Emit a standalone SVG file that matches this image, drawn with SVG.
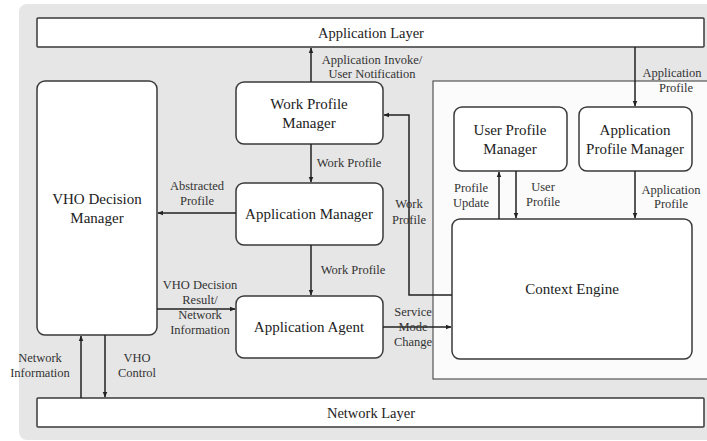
<svg xmlns="http://www.w3.org/2000/svg" width="707" height="441" viewBox="0 0 707 441">
<style>
.box{fill:#fff;stroke:#3a3a3a;stroke-width:1.5}
.node{font-size:15px;fill:#222;text-anchor:middle}
.lbl{font-size:12.5px;fill:#333;text-anchor:middle}
.ln{fill:none;stroke:#222;stroke-width:1.5}
</style>
<defs>
<marker id="ah" viewBox="0 0 10 10" refX="9" refY="5" markerWidth="6" markerHeight="6" orient="auto" markerUnits="userSpaceOnUse">
<path d="M0,1 L10,5 L0,9 z" fill="#222"/>
</marker>
</defs>
<rect x="19" y="4" width="700" height="436" rx="8" fill="#e6e6e6"/>
<rect id="context-panel" x="433" y="81" width="280" height="298" fill="#fbfbfb" stroke="#555" stroke-width="1.2"/>
<g font-family="Liberation Serif, DejaVu Serif, Times New Roman, serif">
<g id="application-layer"><rect class="box" x="37" y="18" width="667" height="29" rx="1"/><text class="node" x="371" y="38" style="font-size:14.5px">Application Layer</text></g>
<g id="network-layer"><rect class="box" x="37" y="398" width="667" height="29" rx="1"/><text class="node" x="371" y="418" style="font-size:14.5px">Network Layer</text></g>
<g id="vho-decision-manager"><rect class="box" x="37" y="81" width="120" height="254" rx="8"/><text class="node" x="97" y="204">VHO Decision</text><text class="node" x="97" y="223">Manager</text></g>
<g id="work-profile-manager"><rect class="box" x="236" y="82" width="147" height="62" rx="8"/><text class="node" x="309" y="109">Work Profile</text><text class="node" x="309" y="128">Manager</text></g>
<g id="application-manager"><rect class="box" x="236" y="183" width="147" height="62" rx="8"/><text class="node" x="309" y="219">Application Manager</text></g>
<g id="application-agent"><rect class="box" x="236" y="296" width="147" height="62" rx="8"/><text class="node" x="309" y="332">Application Agent</text></g>
<g id="user-profile-manager"><rect class="box" x="454" y="107" width="113" height="64" rx="8"/><text class="node" x="510" y="135">User Profile</text><text class="node" x="510" y="154">Manager</text></g>
<g id="application-profile-manager"><rect class="box" x="579" y="107" width="113" height="64" rx="8"/><text class="node" x="635" y="135">Application</text><text class="node" x="635" y="154">Profile Manager</text></g>
<g id="context-engine"><rect class="box" x="452" y="219" width="240" height="140" rx="8"/><text class="node" x="572" y="294">Context Engine</text></g>
<g id="connectors">
<line class="ln" x1="311" y1="82" x2="311" y2="48" marker-end="url(#ah)"/>
<text class="lbl" x="372" y="64">Application Invoke/</text><text class="lbl" x="372" y="78">User Notification</text>
<line class="ln" x1="635" y1="47" x2="635" y2="106" marker-end="url(#ah)"/>
<text class="lbl" x="672" y="77">Application</text><text class="lbl" x="676" y="92">Profile</text>
<line class="ln" x1="311" y1="144" x2="311" y2="182" marker-end="url(#ah)"/>
<text class="lbl" x="349" y="167">Work Profile</text>
<line class="ln" x1="236" y1="213" x2="158" y2="213" marker-end="url(#ah)"/>
<text class="lbl" x="197" y="190">Abstracted</text><text class="lbl" x="197" y="205">Profile</text>
<line class="ln" x1="311" y1="245" x2="311" y2="295" marker-end="url(#ah)"/>
<text class="lbl" x="353" y="274">Work Profile</text>
<line class="ln" x1="157" y1="309" x2="235" y2="309" marker-end="url(#ah)"/>
<text class="lbl" x="200" y="289">VHO Decision</text><text class="lbl" x="200" y="304">Result/</text><text class="lbl" x="200" y="319">Network</text><text class="lbl" x="200" y="334">Information</text>
<line class="ln" x1="81" y1="398" x2="81" y2="336" marker-end="url(#ah)"/>
<text class="lbl" x="40" y="362">Network</text><text class="lbl" x="40" y="377">Information</text>
<line class="ln" x1="105" y1="335" x2="105" y2="397" marker-end="url(#ah)"/>
<text class="lbl" x="137" y="362">VHO</text><text class="lbl" x="137" y="377">Control</text>
<line class="ln" x1="383" y1="327" x2="451" y2="327" marker-end="url(#ah)"/>
<text class="lbl" x="413" y="316">Service</text><text class="lbl" x="413" y="331">Mode</text><text class="lbl" x="413" y="346">Change</text>
<text class="lbl" x="409" y="208">Work</text><text class="lbl" x="409" y="224">Profile</text>
<polyline class="ln" points="452,295 409,295 409,115 384,115" marker-end="url(#ah)"/>
<line class="ln" x1="499" y1="219" x2="499" y2="172" marker-end="url(#ah)"/>
<text class="lbl" x="471" y="192">Profile</text><text class="lbl" x="471" y="207">Update</text>
<line class="ln" x1="516" y1="171" x2="516" y2="218" marker-end="url(#ah)"/>
<text class="lbl" x="543" y="191">User</text><text class="lbl" x="543" y="206">Profile</text>
<line class="ln" x1="635" y1="171" x2="635" y2="218" marker-end="url(#ah)"/>
<text class="lbl" x="671" y="194">Application</text><text class="lbl" x="671" y="208">Profile</text>
</g>
</g>
</svg>
